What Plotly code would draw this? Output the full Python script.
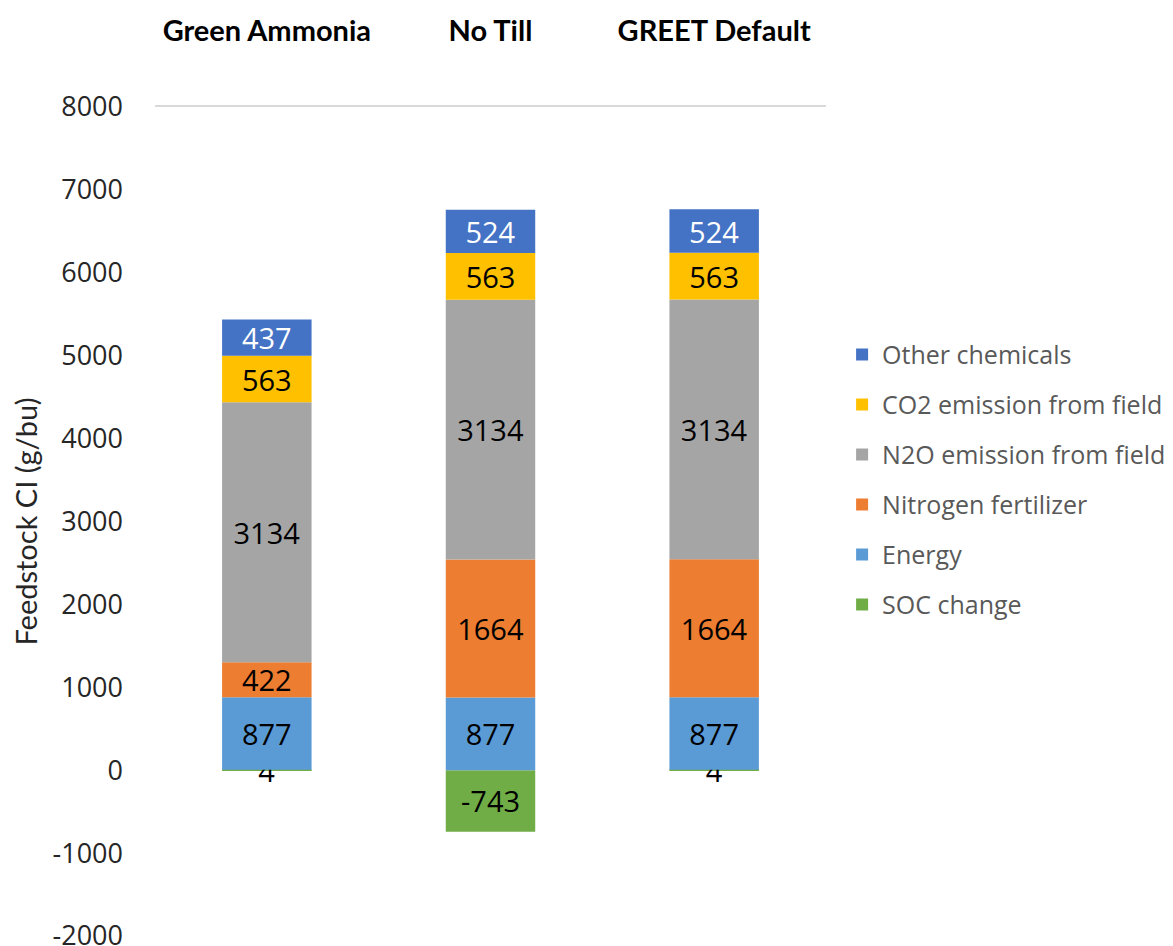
import plotly.graph_objects as go

categories = ["Green Ammonia", "No Till", "GREET Default"]
soc_change = [4, -743, 4]
energy = [877, 877, 877]
nitrogen_fertilizer = [422, 1664, 1664]
n2o_field = [3134, 3134, 3134]
co2_field = [563, 563, 563]
other_chemicals = [437, 524, 524]
y_ticks = [-2000, -1000, 0, 1000, 2000, 3000, 4000, 5000, 6000, 7000, 8000]

series = [
    ("SOC change", soc_change, "#70AD47", "black"),
    ("Energy", energy, "#5B9BD5", "black"),
    ("Nitrogen fertilizer", nitrogen_fertilizer, "#ED7D31", "black"),
    ("N2O emission from field", n2o_field, "#A5A5A5", "black"),
    ("CO2 emission from field", co2_field, "#FFC000", "black"),
    ("Other chemicals", other_chemicals, "#4472C4", "white"),
]

fig = go.Figure()
n = len(series)
for i, (name, vals, color, tcolor) in enumerate(series):
    fig.add_trace(go.Bar(
        x=categories, y=vals, name=name, legendgroup=name,
        legendrank=n - i,
        marker=dict(color=color, line=dict(width=0)),
        text=[str(v) for v in vals], textposition="inside",
        insidetextanchor="middle", textangle=0, constraintext="none",
        insidetextfont=dict(family="Open Sans", size=29, color=tcolor),
        cliponaxis=False,
    ))

fig.update_layout(
    width=1173, height=946,
    barmode="relative", bargap=0.6,
    plot_bgcolor="white", paper_bgcolor="white",
    margin=dict(l=147, r=355, t=99, b=18, autoexpand=False),
    uniformtext=dict(minsize=29, mode="show"),
    font=dict(family="Open Sans", color="#262626"),
    xaxis=dict(
        side="top", showline=True, linecolor="#D9D9D9", linewidth=2,
        ticks="", ticklabelstandoff=52, automargin=False,
        tickfont=dict(family="Lato", size=29, color="black", weight="bold"),
        showgrid=False, zeroline=False,
    ),
    yaxis=dict(
        range=[-2000, 8000], tickvals=y_ticks, ticktext=[str(v) for v in y_ticks],
        showgrid=False, zeroline=False, showline=False, ticks="",
        ticklabelstandoff=31, automargin=False, ticklabeloverflow="allow",
        tickfont=dict(family="Open Sans", size=27, color="#262626"),
        title=dict(text="Feedstock CI (g/bu)", standoff=14,
                   font=dict(family="Lato", size=29, color="#262626")),
    ),
    legend=dict(
        x=1.024, xanchor="left", y=0.729, yanchor="top",
        traceorder="grouped", tracegroupgap=14.5,
        font=dict(family="Open Sans", size=25, color="#595959"),
        itemwidth=30,
    ),
)

fig.write_html("out.html")
